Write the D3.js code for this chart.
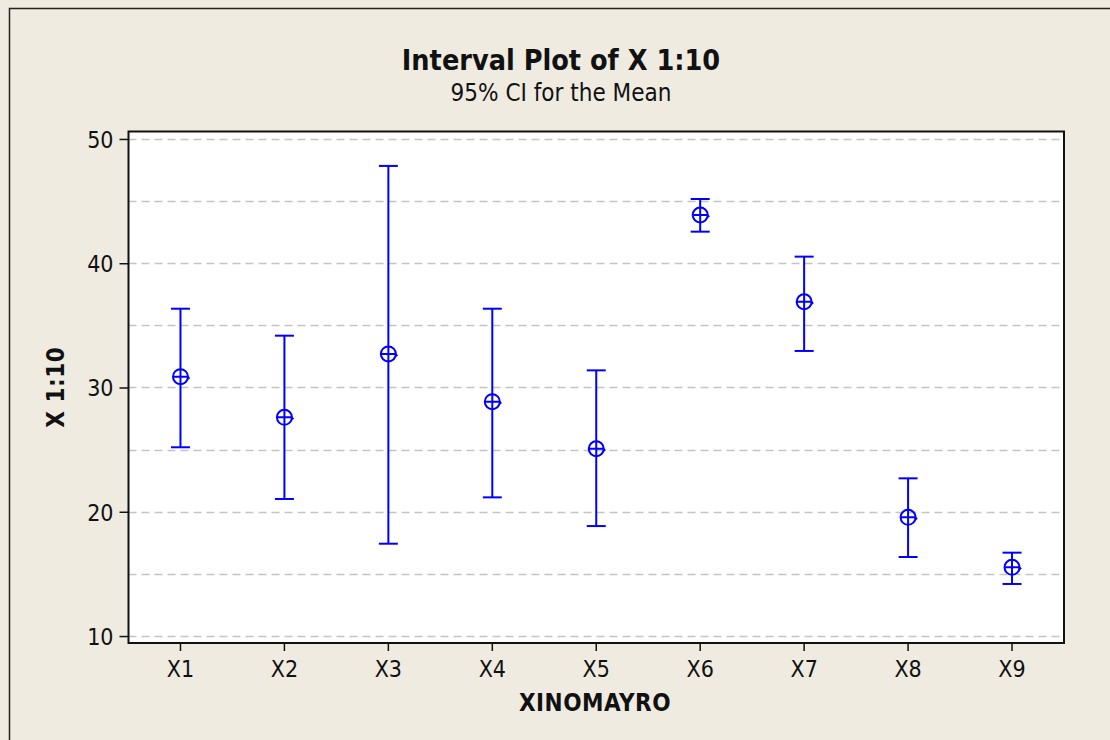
<!DOCTYPE html>
<html>
<head>
<meta charset="utf-8">
<script src="https://cdn.jsdelivr.net/npm/d3@7"></script>
<style>
  html, body { margin: 0; padding: 0; background: #efebe1; }
  svg { display: block; }
  text { font-family: "DejaVu Sans Condensed", "DejaVu Sans", sans-serif; fill: #111; }
</style>
</head>
<body>
<svg id="chart" width="1110" height="740"></svg>
<script>
// interval data (95% CI for the mean)
const groups = ['X1', 'X2', 'X3', 'X4', 'X5', 'X6', 'X7', 'X8', 'X9'];
const means = [30.87, 27.6, 32.7, 28.86, 25.07, 43.88, 36.9, 19.55, 15.53];
const lowers = [25.19, 21.03, 17.43, 21.16, 18.85, 42.54, 32.94, 16.36, 14.19];
const uppers = [36.34, 34.17, 47.83, 36.34, 31.38, 45.17, 40.53, 22.69, 16.71];
const yTicks = [10, 20, 30, 40, 50];
const gridValues = [10, 15, 20, 25, 30, 35, 40, 45, 50];

const W = 1110, H = 740;
const plot = { left: 128.5, top: 131.5, right: 1064, bottom: 643 };
const blue = '#0000ff';
const FONT = '"DejaVu Sans Condensed", "DejaVu Sans", sans-serif';

const svg = d3.select('#chart');

// outer frame
svg.append('rect')
  .attr('x', 9.5).attr('y', 8.5)
  .attr('width', W + 20).attr('height', H + 20)
  .attr('fill', '#efebe1')
  .attr('stroke', '#222').attr('stroke-width', 1.5);

const x = d3.scaleBand().domain(groups).range([plot.left, plot.right]);
const y = d3.scaleLinear().domain([9.44, 50.6]).range([plot.bottom, plot.top]);
const cx = d => x(d) + x.bandwidth() / 2;

svg.append('rect')
  .attr('x', plot.left).attr('y', plot.top)
  .attr('width', plot.right - plot.left).attr('height', plot.bottom - plot.top)
  .attr('fill', '#fff');

// dashed reference lines
svg.append('g').selectAll('line')
  .data(gridValues)
  .enter().append('line')
  .attr('x1', plot.left).attr('x2', plot.right)
  .attr('y1', d => Math.round(y(d)) + 0.5).attr('y2', d => Math.round(y(d)) + 0.5)
  .attr('stroke', '#c4c4c4').attr('stroke-width', 1.5)
  .attr('stroke-dasharray', '8,5');

// axes
const yAxis = svg.append('g')
  .attr('transform', `translate(${plot.left},0)`)
  .call(d3.axisLeft(y).tickValues(yTicks).tickSize(9));
const xAxis = svg.append('g')
  .attr('transform', `translate(0,${plot.bottom})`)
  .call(d3.axisBottom(x).tickSize(8));

[yAxis, xAxis].forEach(a => {
  a.select('.domain').remove();
  a.selectAll('.tick line').attr('stroke', '#111').attr('stroke-width', 1.5);
  a.selectAll('.tick text').attr('font-size', 23).attr('fill', '#111')
    .style('font-family', FONT);
});
yAxis.selectAll('.tick text').attr('x', -15).attr('dy', '0.36em');
xAxis.selectAll('.tick text').attr('y', 34).attr('dy', 0);

// plot border
svg.append('rect')
  .attr('x', plot.left).attr('y', plot.top)
  .attr('width', plot.right - plot.left).attr('height', plot.bottom - plot.top)
  .attr('fill', 'none').attr('stroke', '#111').attr('stroke-width', 2);

// intervals
const rows = groups.map((g, i) => ({ g, mean: means[i], lo: lowers[i], hi: uppers[i] }));
const marks = svg.append('g').selectAll('g')
  .data(rows)
  .enter().append('g')
  .attr('stroke', blue).attr('stroke-width', 2).attr('fill', 'none');

marks.append('line')
  .attr('x1', d => cx(d.g)).attr('x2', d => cx(d.g))
  .attr('y1', d => y(d.lo)).attr('y2', d => y(d.hi));
marks.append('line')
  .attr('x1', d => cx(d.g) - 9.5).attr('x2', d => cx(d.g) + 9.5)
  .attr('y1', d => y(d.hi)).attr('y2', d => y(d.hi));
marks.append('line')
  .attr('x1', d => cx(d.g) - 9.5).attr('x2', d => cx(d.g) + 9.5)
  .attr('y1', d => y(d.lo)).attr('y2', d => y(d.lo));
marks.append('circle')
  .attr('cx', d => cx(d.g)).attr('cy', d => y(d.mean)).attr('r', 7.5);
marks.append('path')
  .attr('d', d => {
    const px = cx(d.g), py = y(d.mean);
    return `M${px - 7.5},${py}L${px + 7},${py}L${px + 9},${py + 2}`;
  });

// titles
svg.append('text')
  .attr('x', 561).attr('y', 70)
  .attr('text-anchor', 'middle')
  .attr('font-size', 28.5).attr('font-weight', 'bold')
  .text('Interval Plot of X 1:10');
svg.append('text')
  .attr('x', 561).attr('y', 101)
  .attr('text-anchor', 'middle')
  .attr('font-size', 24)
  .text('95% CI for the Mean');
svg.append('text')
  .attr('x', 595).attr('y', 711)
  .attr('text-anchor', 'middle')
  .attr('font-size', 24).attr('font-weight', 'bold')
  .attr('letter-spacing', 0.5)
  .text('XINOMAYRO');
svg.append('text')
  .attr('transform', `translate(64,${(plot.top + plot.bottom) / 2}) rotate(-90)`)
  .attr('text-anchor', 'middle')
  .attr('font-size', 24).attr('font-weight', 'bold')
  .attr('letter-spacing', 0.5)
  .text('X 1:10');
</script>
</body>
</html>
